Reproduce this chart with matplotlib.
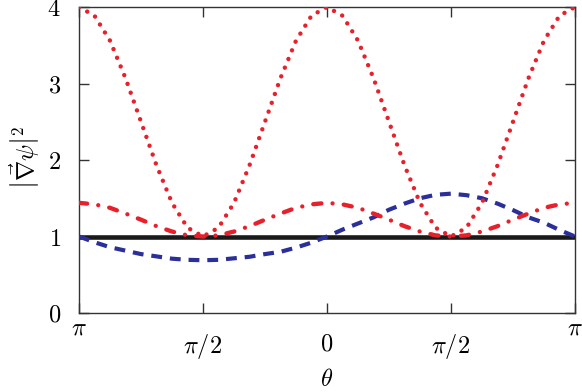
import numpy as np
import matplotlib
matplotlib.use('Agg')
import matplotlib.pyplot as plt
from matplotlib import transforms

plt.rcParams['mathtext.fontset'] = 'cm'
plt.rcParams['font.family'] = 'serif'

# theta in units of pi, steps of 1/16
t = np.arange(-16, 17) / 16.0

# black reference level
flat = [1.0] * 33

# blue dashed curve
blue = [1.00, 0.925, 0.86, 0.815, 0.77, 0.74, 0.71, 0.695, 0.69, 0.695, 0.715,
        0.735, 0.77, 0.80, 0.855, 0.92, 1.00, 1.09, 1.17, 1.25, 1.35, 1.43,
        1.50, 1.545, 1.56, 1.54, 1.50, 1.43, 1.345, 1.25, 1.18, 1.085, 1.00]

# red dash-dot curve
half_dd = [1.44, 1.42, 1.375, 1.30, 1.22, 1.135, 1.065, 1.015, 1.00]
dashdot = half_dd + half_dd[-2::-1] + half_dd[1:] + half_dd[-2::-1]

# red dotted curve
half_dot = [4.0, 3.886, 3.56, 3.07, 2.5, 1.93, 1.44, 1.115, 1.0]
dotted = half_dot + half_dot[-2::-1] + half_dot[1:] + half_dot[-2::-1]

xtick_pos = [-1, -0.5, 0, 0.5, 1]
xtick_lab = ['', r'$\pi/2$', r'$0$', r'$\pi/2$', '']
ytick_pos = [0, 1, 2, 3, 4]

red = '#e8202c'
navy = '#2b2f98'
fs = 17.5

fig = plt.figure(figsize=(5.82, 3.92), dpi=100)
ax = fig.add_axes([79 / 582, 1 - 313 / 392, 496 / 582, 306 / 392])

ax.plot(t, flat, color='#1a1a1a', lw=3.3, solid_capstyle='butt', zorder=2)
ax.plot(t, blue, color=navy, lw=3.0, dashes=(2.6, 1.9), dash_capstyle='butt', zorder=3)
ax.plot(t, dashdot, color=red, lw=3.1, dashes=(1.9, 2.6, 0.01, 2.6),
        dash_capstyle='round', zorder=4)
ax.plot(t, dotted, color=red, lw=3.2, dashes=(0.01, 2.1),
        dash_capstyle='round', zorder=5)

ax.set_xlim(-1, 1)
ax.set_ylim(0, 4)
ax.set_xticks(xtick_pos)
ax.set_xticklabels(xtick_lab, fontsize=fs)
ax.set_yticks(ytick_pos)
ax.set_yticklabels([r'$%d$' % v for v in ytick_pos], fontsize=fs)
ax.tick_params(direction='in', length=7, width=1, top=True, right=True, color='#333333')
ax.tick_params(axis='x', pad=14)
ax.tick_params(axis='y', pad=13)
for s in ax.spines.values():
    s.set_linewidth(1.0)
    s.set_color('#333333')

# the two end labels sit a bit higher
trans = transforms.blended_transform_factory(ax.transData, ax.transAxes)
ax.text(-1, -0.049, r'$\pi$', transform=trans, ha='center', va='center', fontsize=fs)
ax.text(1, -0.049, r'$\pi$', transform=trans, ha='center', va='center', fontsize=fs)

fig.text(25 / 582, 1 - 158 / 392, r'$\left|\vec{\nabla}\psi\right|^2$', rotation=90,
         ha='center', va='center', fontsize=fs)
fig.text(327 / 582, 1 - 380 / 392, r'$\theta$', ha='center', va='center', fontsize=fs)

fig.savefig('out.png', dpi=100)
